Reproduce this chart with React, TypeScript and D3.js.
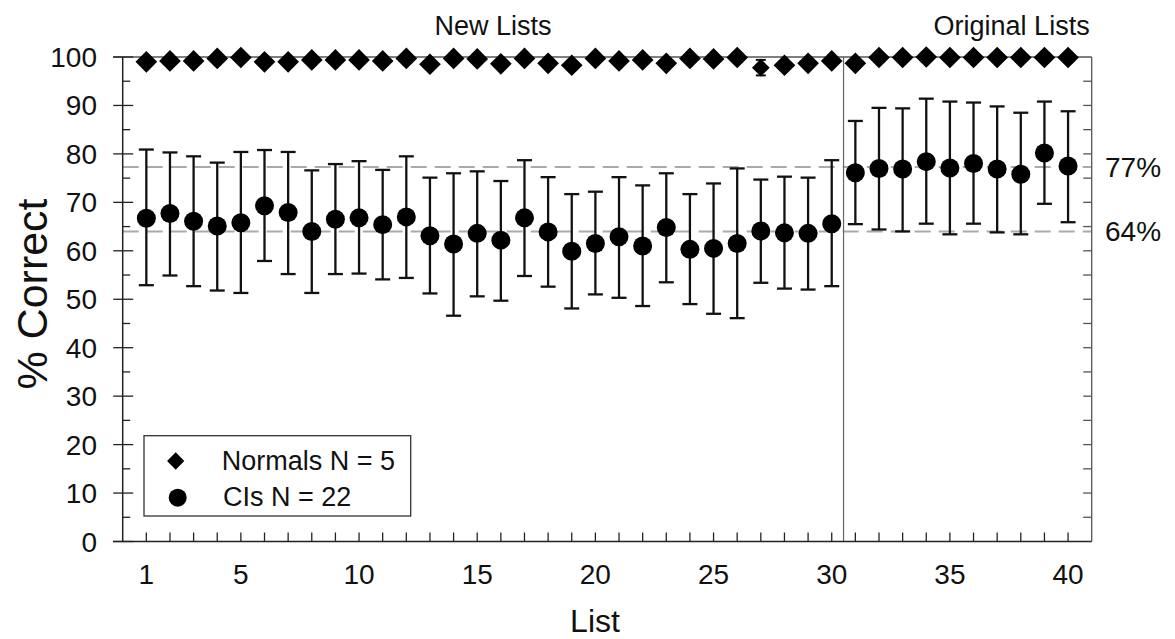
import React from "react";
import * as d3 from "d3";

const lists = [1,2,3,4,5,6,7,8,9,10,11,12,13,14,15,16,17,18,19,20,21,22,23,24,25,26,27,28,29,30,31,32,33,34,35,36,37,38,39,40];
const normals = [99.0,99.2,99.2,99.7,99.9,99.0,99.0,99.4,99.4,99.4,99.2,99.7,98.5,99.7,99.6,98.6,99.7,98.7,98.3,99.7,99.2,99.4,98.7,99.7,99.6,99.9,97.8,98.3,98.7,99.2,98.7,99.9,99.9,100,99.9,99.9,99.9,99.9,99.9,99.9];
const normalsErr = [0,0,0,0,0,0,0,0,0,0,0,0,0,0,0,0,0,0,0,0,0,0,0,0,0,0,1.6,0,0,0,0,0,0,0,0,0,0,0,0,0];
const ciMean = [66.7,67.7,66.1,65.1,65.8,69.3,67.9,64.0,66.5,66.8,65.4,67.0,63.1,61.4,63.6,62.2,66.8,63.9,59.9,61.5,62.9,61.0,64.8,60.3,60.5,61.5,64.1,63.7,63.6,65.6,76.1,77.0,76.9,78.4,77.1,78.0,76.9,75.8,80.2,77.5];
const ciUpper = [80.9,80.3,79.5,78.2,80.4,80.8,80.4,76.6,77.9,78.5,76.7,79.5,75.1,76.0,76.4,74.4,78.7,75.2,71.7,72.2,75.2,73.5,76.0,71.7,73.9,77.0,74.7,75.3,75.1,78.7,86.8,89.5,89.4,91.4,90.8,90.6,89.8,88.5,90.8,88.8];
const ciLower = [52.9,54.9,52.7,51.8,51.3,57.9,55.2,51.3,55.2,55.3,54.1,54.4,51.2,46.6,50.6,49.7,54.8,52.6,48.1,51.0,50.3,48.6,53.5,49.0,47.0,46.1,53.4,52.2,52.0,52.7,65.5,64.4,64.0,65.6,63.4,65.6,63.8,63.4,69.7,65.9];
const xTickLabels = [1,5,10,15,20,25,30,35,40];
const yTickLabels = [0,10,20,30,40,50,60,70,80,90,100];
const refLines = [77.3, 64];
const refLabels = ["77%", "64%"];
const sectionLabels = ["New Lists", "Original Lists"];
const legendLabels = ["Normals N = 5", "CIs N = 22"];

const FONT = "'Liberation Sans', Arial, Helvetica, sans-serif";

export default function App() {
  const W = 1175, H = 639;
  const x = d3.scaleLinear().domain([0, 41]).range([122.7, 1091.7]);
  const y = d3.scaleLinear().domain([0, 100]).range([541.5, 57]);
  const diamond = d3.symbol().type(d3.symbolDiamond2).size(300)();
  const minorY = d3.range(5, 100, 10);
  const rightTicks = d3.range(5, 100, 5);
  const divider = 30.5;
  const cap = 7.5;
  const ink = "#111";

  return (
    <svg width={W} height={H} style={{ position: "fixed", left: 0, top: 0, background: "#fff" }} fontFamily={FONT}>
      <rect width={W} height={H} fill="#fff" />
      {refLines.map((r, i) => (
        <g key={"r" + i}>
          <line x1={x(0)} x2={x(41)} y1={y(r)} y2={y(r)} stroke="#aaa" strokeWidth={2} strokeDasharray="16 8" />
          <text x={1105} y={y(r) + 10} fontSize={28} fill="#111">{refLabels[i]}</text>
        </g>
      ))}
      <line x1={113} x2={x(41)} y1={y(100)} y2={y(100)} stroke="#555" strokeWidth={1.3} />
      <line x1={x(41)} x2={x(41)} y1={y(100)} y2={y(0)} stroke="#555" strokeWidth={1.3} />
      <line x1={x(divider)} x2={x(divider)} y1={y(100)} y2={y(0)} stroke="#666" strokeWidth={1.2} />
      <line x1={x(0)} x2={x(0)} y1={y(100)} y2={y(0)} stroke="#222" strokeWidth={1.5} />
      <line x1={113} x2={x(41)} y1={y(0)} y2={y(0)} stroke="#222" strokeWidth={1.5} />
      {yTickLabels.map((t) => (
        <g key={"yt" + t}>
          <line x1={x(0) - 9.5} x2={x(0) + 10.5} y1={y(t)} y2={y(t)} stroke="#222" strokeWidth={1.3} />
          <text x={97} y={y(t) + 10} textAnchor="end" fontSize={28} fill="#111">{t}</text>
        </g>
      ))}
      {minorY.map((t) => (
        <line key={"ym" + t} x1={x(0)} x2={x(0) + 7.5} y1={y(t)} y2={y(t)} stroke="#222" strokeWidth={1.3} />
      ))}
      {rightTicks.map((t) => (
        <line key={"rt" + t} x1={x(41) - 8.5} x2={x(41)} y1={y(t)} y2={y(t)} stroke="#555" strokeWidth={1.3} />
      ))}
      {lists.map((l) => (
        <line key={"xt" + l} x1={x(l)} x2={x(l)} y1={y(0)} y2={y(0) - 9} stroke="#222" strokeWidth={1.3} />
      ))}
      {xTickLabels.map((t) => (
        <text key={"xl" + t} x={x(t)} y={584} textAnchor="middle" fontSize={28} fill="#111">{t}</text>
      ))}
      {lists.map((l, i) => (
        <g key={"eb" + l} stroke={ink} strokeWidth={2.3}>
          <line x1={x(l)} x2={x(l)} y1={y(ciUpper[i])} y2={y(ciLower[i])} />
          <line x1={x(l) - cap} x2={x(l) + cap} y1={y(ciUpper[i])} y2={y(ciUpper[i])} />
          <line x1={x(l) - cap} x2={x(l) + cap} y1={y(ciLower[i])} y2={y(ciLower[i])} />
        </g>
      ))}
      {lists.map((l, i) => (
        <circle key={"c" + l} cx={x(l)} cy={y(ciMean[i])} r={9.5} fill="#000" />
      ))}
      {lists.map((l, i) =>
        normalsErr[i] > 0 ? (
          <g key={"ne" + l} stroke={ink} strokeWidth={2}>
            <line x1={x(l)} x2={x(l)} y1={y(normals[i] + normalsErr[i])} y2={y(normals[i] - normalsErr[i])} />
            <line x1={x(l) - 5} x2={x(l) + 5} y1={y(normals[i] + normalsErr[i])} y2={y(normals[i] + normalsErr[i])} />
            <line x1={x(l) - 5} x2={x(l) + 5} y1={y(normals[i] - normalsErr[i])} y2={y(normals[i] - normalsErr[i])} />
          </g>
        ) : null
      )}
      {lists.map((l, i) => (
        <path key={"d" + l} d={normalsErr[i] > 0 ? d3.symbol().type(d3.symbolDiamond2).size(200)() : diamond} transform={`translate(${x(l)},${y(normals[i])})`} fill="#000" />
      ))}
      <text x={(x(0) + x(divider)) / 2 + 10} y={35} textAnchor="middle" fontSize={27} fill="#111">{sectionLabels[0]}</text>
      <text x={(x(divider) + x(41)) / 2 + 44} y={35} textAnchor="middle" fontSize={27} fill="#111">{sectionLabels[1]}</text>
      <rect x={144} y={435.7} width={266.7} height={80.3} fill="#fff" stroke="#333" strokeWidth={1.3} />
      <path d={d3.symbol().type(d3.symbolDiamond2).size(190)()} transform="translate(175.7,461)" fill="#000" />
      <circle cx={177.7} cy={497.7} r={9} fill="#000" />
      <text x={221.7} y={470} fontSize={27} fill="#111">{legendLabels[0]}</text>
      <text x={223} y={506} fontSize={27} fill="#111">{legendLabels[1]}</text>
      <text transform="translate(46.7,294) rotate(-90)" textAnchor="middle" fontSize={43} fill="#111">% Correct</text>
      <text x={595} y={632} textAnchor="middle" fontSize={32} fill="#111">List</text>
    </svg>
  );
}
